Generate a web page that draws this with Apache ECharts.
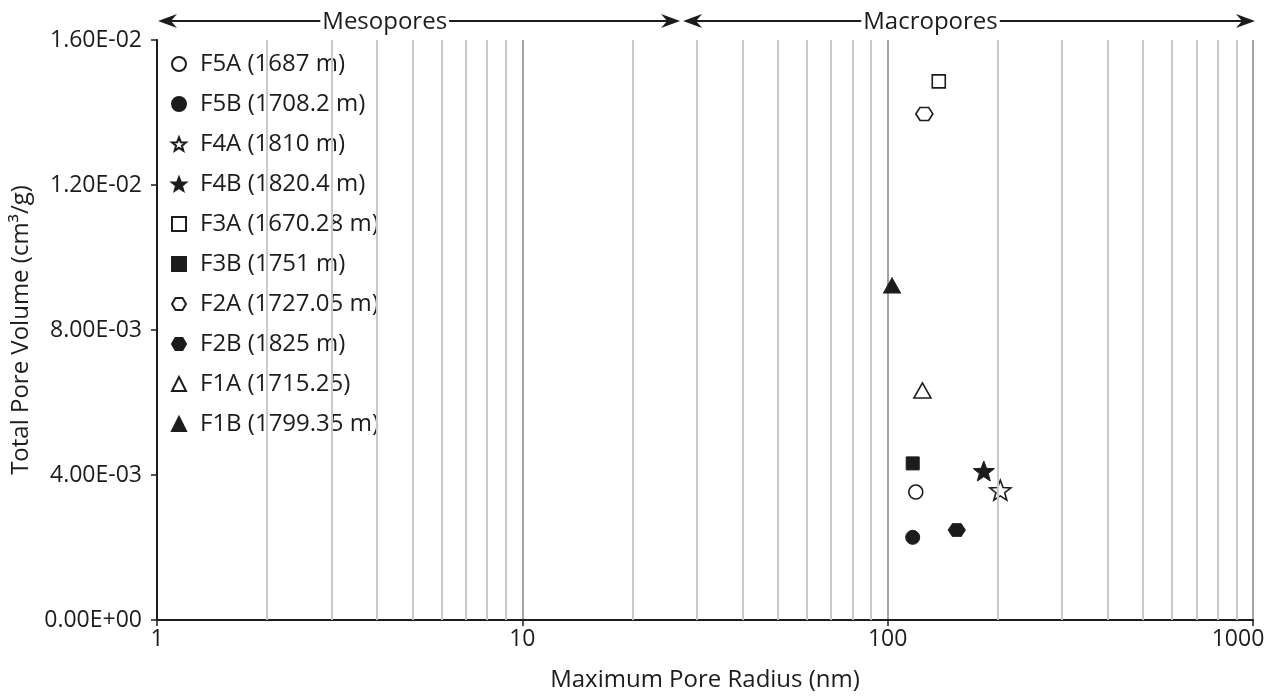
<!DOCTYPE html>
<html>
<head>
<meta charset="utf-8">
<script src="https://cdn.jsdelivr.net/npm/echarts@6/dist/echarts.min.js"></script>
<style>
  html, body { margin: 0; background: #fff; }
  #chart { width: 1270px; height: 696px; }
</style>
</head>
<body>
<div id="chart"></div>
<script>
// sample labels, in legend order
const sampleNames = [
  "F5A (1687 m)", "F5B (1708.2 m)", "F4A (1810 m)", "F4B (1820.4 m)",
  "F3A (1670.28 m)", "F3B (1751 m)", "F2A (1727.05 m)", "F2B (1825 m)",
  "F1A (1715.25)", "F1B (1799.35 m)",
];
// maximum pore radius (nm)
const poreRadius = [119.4, 117.1, 203.4, 183.3, 138.0, 117.1, 126.0, 154.6, 124.5, 102.8];
// total pore volume (cm3/g)
const poreVolume = [0.00353, 0.00228, 0.00358, 0.00411, 0.01486, 0.00432, 0.01396, 0.00248, 0.00633, 0.00923];
const markerShapes = ["circle", "circle", "star", "star", "square", "square", "hexagon", "hexagon", "triangle", "triangle"];
const markerFilled = [false, true, false, true, false, true, false, true, false, true];

const yTicks = [0, 0.004, 0.008, 0.012, 0.016];
const xDecades = [1, 10, 100, 1000];
const minorGridValues = [2, 3, 4, 5, 6, 7, 8, 9, 20, 30, 40, 50, 60, 70, 80, 90, 200, 300, 400, 500, 600, 700, 800, 900];

// pore size classes drawn as arrows above the plot
const poreClasses = ["Mesopores", "Macropores"];
const classBounds = [1, 27.2, 1000];
const classLabelAt = [4.2, 131];

const FONT = '"Open Sans", "Noto Sans", sans-serif';
const INK = "#1c1c1c";

const starPath = () => {
  const pts = [];
  for (let i = 0; i < 10; i++) {
    const r = i % 2 ? 0.42 : 1;
    const a = -Math.PI / 2 + (i * Math.PI) / 5;
    pts.push((r * Math.cos(a)).toFixed(4) + " " + (r * Math.sin(a)).toFixed(4));
  }
  return "path://M" + pts.join(" L") + " Z";
};

const SHAPES = {
  circle: { symbol: "circle", size: 14 },
  star: { symbol: starPath(), size: 21 },
  square: { symbol: "rect", size: 13 },
  hexagon: { symbol: "path://M-1 0 L-0.5 -0.866 L0.5 -0.866 L1 0 L0.5 0.866 L-0.5 0.866 Z", size: [17, 15] },
  triangle: { symbol: "triangle", size: [17, 15] },
};

const sci = (v) => {
  const [m, e] = Number(v).toExponential(2).split("e");
  const n = parseInt(e, 10);
  return m + "E" + (n < 0 ? "-" : "+") + String(Math.abs(n)).padStart(2, "0");
};

const sampleSeries = sampleNames.map((name, i) => {
  const shape = SHAPES[markerShapes[i]];
  const filled = markerFilled[i];
  return {
    name,
    type: "scatter",
    z: 3,
    symbol: shape.symbol,
    symbolSize: shape.size,
    symbolKeepAspect: true,
    itemStyle: {
      color: filled ? INK : "#fff",
      borderColor: INK,
      borderWidth: filled ? 1 : 1.6,
      opacity: 1,
    },
    data: [[poreRadius[i], poreVolume[i]]],
  };
});

const gridSeries = {
  type: "scatter",
  z: 1,
  silent: true,
  data: [],
  markLine: {
    silent: true,
    symbol: "none",
    animation: false,
    label: { show: false },
    lineStyle: { color: "#c9c9c9", width: 2, type: "solid" },
    emphasis: { disabled: true },
    data: minorGridValues.map((v) => ({ xAxis: v })),
  },
};

const xLabel = (v) => {
  const n = Math.round(v);
  return n === xDecades[xDecades.length - 1] ? "{last|" + n + "}" : String(n);
};

const chart = echarts.init(document.getElementById("chart"));

chart.setOption({
  animation: false,
  backgroundColor: "#fff",
  textStyle: { fontFamily: FONT, color: INK },
  grid: { left: 157, right: 17, top: 40, bottom: 76, outerBoundsMode: "none", containLabel: false },
  legend: {
    data: sampleNames,
    orient: "vertical",
    left: 171,
    top: 51,
    padding: 0,
    itemWidth: 14,
    itemHeight: 14,
    itemGap: 14,
    selectedMode: false,
    textStyle: { fontFamily: FONT, fontSize: 24, color: INK, lineHeight: 26, padding: [0, 0, 0, 9] },
  },
  xAxis: {
    type: "log",
    logBase: 10,
    min: xDecades[0],
    max: xDecades[xDecades.length - 1],
    name: "Maximum Pore Radius (nm)",
    nameLocation: "middle",
    nameGap: 48,
    nameTextStyle: { fontFamily: FONT, fontSize: 24, color: INK },
    axisLine: { show: true, onZero: false, lineStyle: { color: INK, width: 2 } },
    axisTick: { show: true, length: 6, lineStyle: { color: INK, width: 1.5 } },
    axisLabel: {
      fontFamily: FONT, fontSize: 23, color: INK, margin: 8,
      formatter: xLabel,
      rich: { last: { fontFamily: FONT, fontSize: 23, color: INK, padding: [0, 30, 0, 0] } },
    },
    splitLine: { show: true, lineStyle: { color: "#a3a3a3", width: 2 } },
    minorTick: { show: false },
    minorSplitLine: { show: false },
  },
  yAxis: {
    type: "value",
    min: yTicks[0],
    max: yTicks[yTicks.length - 1],
    interval: yTicks[1] - yTicks[0],
    name: "Total Pore Volume (cm³/g)",
    nameLocation: "middle",
    nameGap: 118,
    nameTextStyle: { fontFamily: FONT, fontSize: 24, color: INK },
    axisLine: { show: true, lineStyle: { color: INK, width: 2 } },
    axisTick: { show: true, length: 6, lineStyle: { color: INK, width: 1.5 } },
    axisLabel: { fontFamily: FONT, fontSize: 23, color: INK, margin: 15, formatter: sci },
    splitLine: { show: false },
  },
  series: [gridSeries, ...sampleSeries],
});

// arrows for the pore classes, placed through the x axis scale
const xPx = (v) => chart.convertToPixel({ xAxisIndex: 0 }, v);
const arrowY = 21;
const head = (tip, dir) => ({
  type: "polygon",
  z: 10,
  shape: {
    points: [
      [tip, arrowY],
      [tip - dir * 19, arrowY - 7],
      [tip - dir * 13, arrowY],
      [tip - dir * 19, arrowY + 7],
    ],
  },
  style: { fill: INK },
});

const graphics = [];
poreClasses.forEach((label, i) => {
  const x0 = xPx(classBounds[i]) + (i === 0 ? 1 : 2);
  const x1 = xPx(classBounds[i + 1]) + (i === poreClasses.length - 1 ? 2 : -1);
  graphics.push({
    type: "line",
    z: 9,
    shape: { x1: x0 + 10, y1: arrowY, x2: x1 - 10, y2: arrowY },
    style: { stroke: INK, lineWidth: 2 },
  });
  graphics.push(head(x0, -1), head(x1, 1));
  graphics.push({
    type: "text",
    z: 11,
    x: xPx(classLabelAt[i]),
    y: arrowY + 1,
    style: {
      text: label,
      font: "24px " + FONT,
      fill: INK,
      align: "center",
      verticalAlign: "middle",
      backgroundColor: "#fff",
      padding: [0, 2],
    },
  });
});

chart.setOption({ graphic: graphics });
</script>
</body>
</html>
